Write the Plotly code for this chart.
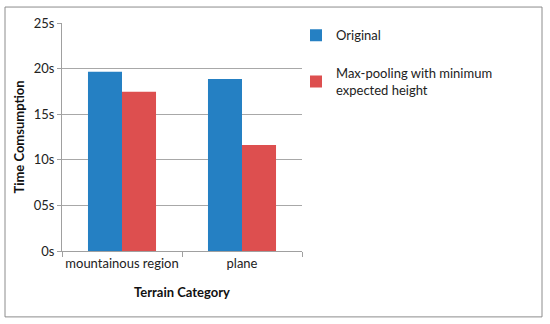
import plotly.graph_objects as go

categories = ["mountainous region", "plane"]
original = [19.66, 18.86]
maxpool = [17.47, 11.62]
tick_vals = [0, 5, 10, 15, 20, 25]
tick_text = ["0s", "05s", "10s", "15s", "20s", "25s"]

FONT = "Lato, Open Sans, sans-serif"

fig = go.Figure()
fig.add_trace(go.Bar(name="Original", x=categories, y=original,
                     marker=dict(color="#2580C3", line=dict(width=0)),
                     legendgroup="a"))
fig.add_trace(go.Bar(name="Max-pooling with minimum<br>expected height", x=categories, y=maxpool,
                     marker=dict(color="#DD4F4F", line=dict(width=0)),
                     legendgroup="b"))

fig.update_layout(
    width=550, height=324,
    margin=dict(l=62, r=248, t=23, b=73),
    paper_bgcolor="white", plot_bgcolor="white",
    barmode="group", bargap=0.433, bargroupgap=0,
    font=dict(family=FONT, size=13, color="#222222"),
    legend=dict(x=0.975, y=1.012, xanchor="left", yanchor="top",
                font=dict(size=13, color="#222222"),
                tracegroupgap=18, bgcolor="rgba(0,0,0,0)"),
    showlegend=True,
    shapes=[dict(type="rect", xref="paper", yref="paper",
                 x0=-0.2375, x1=2.0, y0=-0.289, y1=1.07,
                 line=dict(color="#8c8c8c", width=1), fillcolor="rgba(0,0,0,0)", layer="below")],
)
fig.update_xaxes(
    title=dict(text="<b>Terrain Category</b>", font=dict(size=13, color="#111111"), standoff=18),
    showline=True, linecolor="#a0a0a0", linewidth=1,
    ticks="outside", ticklen=5, tickcolor="#a0a0a0", tickson="boundaries",
    tickangle=0, automargin=False,
    tickfont=dict(size=13, color="#222222"), showgrid=False,
)
fig.update_yaxes(
    title=dict(text="<b>Time Comsumption</b>", font=dict(size=13, color="#111111"), standoff=6),
    range=[0, 25], tickvals=tick_vals, ticktext=tick_text,
    showline=True, linecolor="#a0a0a0", linewidth=1,
    ticks="outside", ticklen=4, tickcolor="#a0a0a0", automargin=False,
    showgrid=True, gridcolor="#a8a8a8", gridwidth=1,
    tickfont=dict(size=13, color="#222222"), zeroline=False,
)

fig.write_html("out.html", config={"displayModeBar": False},
               post_script="document.body.style.margin='0px';")
